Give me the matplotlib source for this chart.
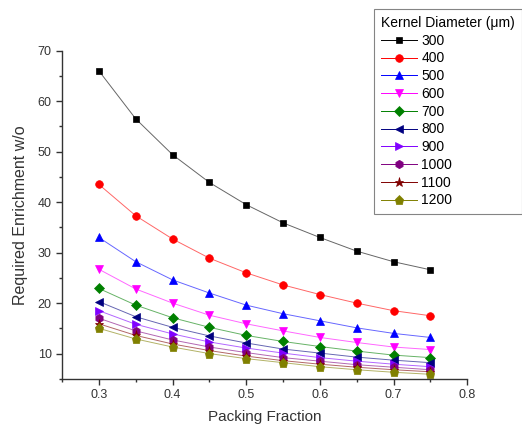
import matplotlib.pyplot as plt
from matplotlib.ticker import MultipleLocator

plt.rcParams['font.family'] = ['Liberation Sans', 'DejaVu Sans']

# packing fraction
pf = [0.30, 0.35, 0.40, 0.45, 0.50, 0.55, 0.60, 0.65, 0.70, 0.75]

# required enrichment (w/o) per kernel diameter
d300 = [66.0, 56.5, 49.4, 43.9, 39.5, 35.9, 33.0, 30.3, 28.2, 26.6]
d400 = [43.5, 37.3, 32.7, 28.9, 26.0, 23.6, 21.7, 20.0, 18.5, 17.5]
d500 = [33.0, 28.2, 24.6, 22.0, 19.6, 17.9, 16.5, 15.1, 14.0, 13.2]
d600 = [26.7, 22.8, 20.0, 17.6, 15.9, 14.5, 13.2, 12.2, 11.3, 10.8]
d700 = [22.9, 19.6, 17.1, 15.2, 13.6, 12.4, 11.4, 10.5, 9.7, 9.2]
d800 = [20.3, 17.3, 15.2, 13.5, 12.1, 10.9, 10.1, 9.3, 8.7, 8.2]
d900 = [18.5, 15.8, 13.9, 12.3, 11.1, 10.1, 9.2, 8.5, 7.9, 7.4]
d1000 = [17.0, 14.5, 12.7, 11.3, 10.2, 9.2, 8.5, 7.8, 7.3, 6.8]
d1100 = [15.9, 13.6, 11.9, 10.6, 9.5, 8.6, 7.9, 7.3, 6.8, 6.4]
d1200 = [15.0, 12.9, 11.3, 10.0, 9.0, 8.2, 7.4, 6.8, 6.3, 5.9]

labels = ['300', '400', '500', '600', '700', '800', '900', '1000', '1100', '1200']
series = [d300, d400, d500, d600, d700, d800, d900, d1000, d1100, d1200]

# Origin-like colour and symbol sequence
colors = ['#000000', '#ff0000', '#0000ff', '#ff00ff', '#008000',
          '#000080', '#8000ff', '#800080', '#800000', '#808000']
markers = ['s', 'o', '^', 'v', 'D', '<', '>', 'h', '*', 'p']
msizes = [5, 5.5, 6, 6, 5, 6, 6, 6, 6.5, 6.5]

fig = plt.figure(figsize=(5.22, 4.30), dpi=100)
ax = fig.add_axes([0.119, 0.119, 0.776, 0.763])

for y, lab, c, m, ms in zip(series, labels, colors, markers, msizes):
    # thin, slightly faded connecting line with solid symbols on top
    ax.plot(pf, y, color=c, linewidth=0.7, alpha=0.6, label='_nolegend_')
    ax.plot(pf, y, color=c, linestyle='none', marker=m, markersize=ms,
            markeredgewidth=0.5)
    ax.plot([], [], color=c, linewidth=0.7, marker=m, markersize=ms,
            markeredgewidth=0.5, label=lab)

ax.set_xlim(0.25, 0.8)
ax.set_ylim(5, 70)
ax.xaxis.set_minor_locator(MultipleLocator(0.05))
ax.yaxis.set_minor_locator(MultipleLocator(5))
ax.set_xticks([0.3, 0.4, 0.5, 0.6, 0.7, 0.8])
ax.set_yticks([10, 20, 30, 40, 50, 60, 70])

ax.spines['top'].set_visible(False)
ax.spines['right'].set_visible(False)
for s in ['left', 'bottom']:
    ax.spines[s].set_linewidth(1.0)
    ax.spines[s].set_color('#333333')

ax.tick_params(axis='both', which='major', direction='out', length=4,
               width=1.0, labelsize=9, color='#333333', labelcolor='#333333', pad=3.5)
ax.tick_params(axis='both', which='minor', direction='out', length=2.5,
               width=1.0, color='#333333')

ax.set_xlabel('Packing Fraction', fontsize=11, color='#333333', labelpad=6)
ax.set_ylabel('Required Enrichment w/o', fontsize=11.5, color='#333333', labelpad=7)

leg = fig.legend(title='Kernel Diameter (\u03bcm)', loc='upper left',
                 bbox_to_anchor=(374 / 522, 1 - 9 / 430), fontsize=10,
                 title_fontsize=10, frameon=True, fancybox=False,
                 edgecolor='#666666', handlelength=2.6, handletextpad=0.3,
                 labelspacing=0.27, borderpad=0.5, borderaxespad=0)
leg._legend_box.align = 'left'
leg.get_frame().set_linewidth(0.8)

fig.savefig('out.png', dpi=100)
